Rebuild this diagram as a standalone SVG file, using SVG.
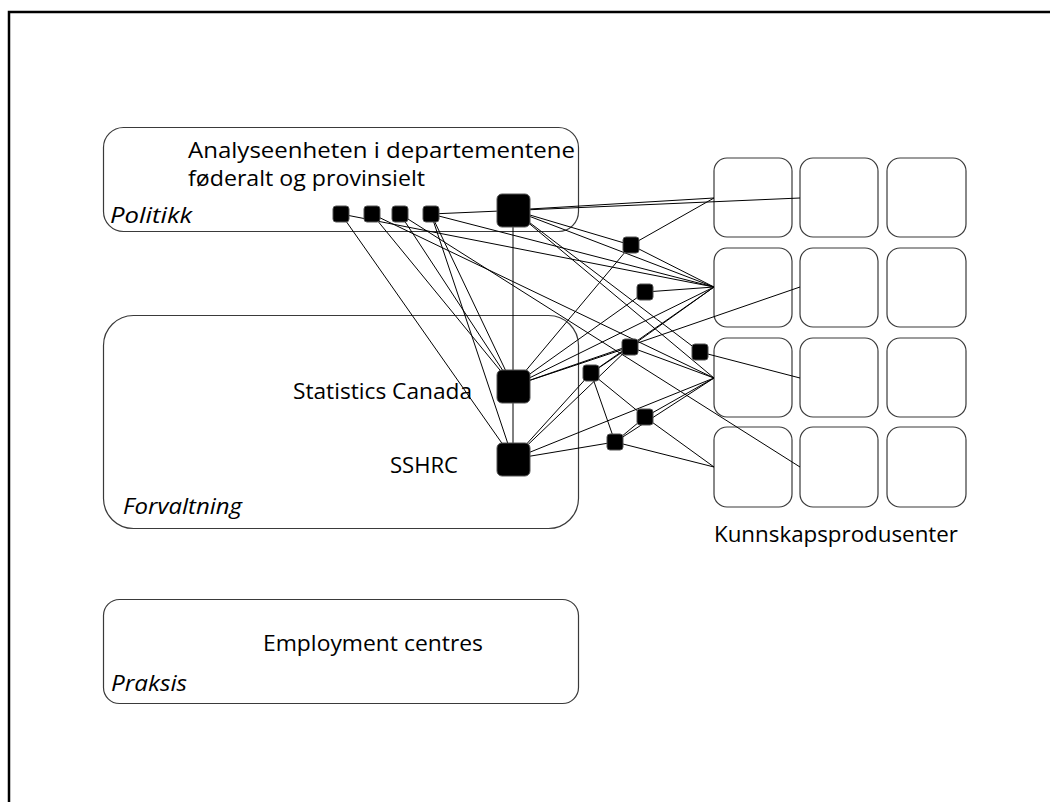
<svg xmlns="http://www.w3.org/2000/svg" width="1050" height="802" viewBox="0 0 1050 802">
<style>
.box{fill:none;stroke:#3a3a3a;stroke-width:1.2}
.cell{fill:none;stroke:#3a3a3a;stroke-width:1.2}
.sq{fill:#000;stroke:#555;stroke-width:1}
.ln{stroke:#000;stroke-width:1;fill:none}
.t{font-family:"Open Sans","Liberation Sans",sans-serif;font-size:22px;fill:#000}
.i{font-style:italic}
</style>
<rect x="0" y="0" width="1050" height="802" fill="#fff"/>
<rect x="9" y="12" width="1100" height="900" fill="none" stroke="#000" stroke-width="2.5"/>

<g id="politikk">
<rect class="box" x="103.5" y="127.5" width="475" height="104" rx="20"/>
<text class="t" x="188" y="158" textLength="387" lengthAdjust="spacingAndGlyphs">Analyseenheten i departementene</text>
<text class="t" x="188" y="186" textLength="237" lengthAdjust="spacingAndGlyphs">føderalt og provinsielt</text>
<text class="t i" x="110" y="223" textLength="82" lengthAdjust="spacingAndGlyphs">Politikk</text>
</g>
<g id="forvaltning">
<rect class="box" x="103.5" y="315.5" width="475" height="213" rx="30"/>
<text class="t" x="293" y="399" textLength="179" lengthAdjust="spacingAndGlyphs">Statistics Canada</text>
<text class="t" x="390" y="473" textLength="68" lengthAdjust="spacingAndGlyphs">SSHRC</text>
<text class="t i" x="123" y="514" textLength="119" lengthAdjust="spacingAndGlyphs">Forvaltning</text>
</g>
<g id="praksis">
<rect class="box" x="103.5" y="599.5" width="475" height="104" rx="16"/>
<text class="t" x="263" y="651" textLength="220" lengthAdjust="spacingAndGlyphs">Employment centres</text>
<text class="t i" x="111" y="691" textLength="76" lengthAdjust="spacingAndGlyphs">Praksis</text>
</g>
<g id="kunnskapsprodusenter">
<rect class="cell" x="714" y="158" width="78" height="79" rx="13"/>
<rect class="cell" x="800" y="158" width="78" height="79" rx="13"/>
<rect class="cell" x="887" y="158" width="79" height="79" rx="13"/>
<rect class="cell" x="714" y="248" width="78" height="79" rx="13"/>
<rect class="cell" x="800" y="248" width="78" height="79" rx="13"/>
<rect class="cell" x="887" y="248" width="79" height="79" rx="13"/>
<rect class="cell" x="714" y="338" width="78" height="79" rx="13"/>
<rect class="cell" x="800" y="338" width="78" height="79" rx="13"/>
<rect class="cell" x="887" y="338" width="79" height="79" rx="13"/>
<rect class="cell" x="714" y="427" width="78" height="80" rx="13"/>
<rect class="cell" x="800" y="427" width="78" height="80" rx="13"/>
<rect class="cell" x="887" y="427" width="79" height="80" rx="13"/>
<text class="t" x="714" y="542" textLength="244" lengthAdjust="spacingAndGlyphs">Kunnskapsprodusenter</text>
</g>

<g id="connectors" class="ln">
<line x1="341" y1="214" x2="513" y2="459"/>
<line x1="341" y1="214" x2="714" y2="287"/>
<line x1="372" y1="214" x2="513" y2="386"/>
<line x1="372" y1="214" x2="714" y2="378"/>
<line x1="400" y1="214" x2="513" y2="386"/>
<line x1="400" y1="214" x2="800" y2="467"/>
<line x1="431" y1="214" x2="800" y2="198"/>
<line x1="431" y1="214" x2="513" y2="386"/>
<line x1="431" y1="214" x2="513" y2="459"/>
<line x1="431" y1="214" x2="714" y2="287"/>
<line x1="513" y1="210" x2="714" y2="198"/>
<line x1="513" y1="210" x2="513" y2="459"/>
<line x1="513" y1="210" x2="631" y2="245"/>
<line x1="513" y1="210" x2="714" y2="287"/>
<line x1="513" y1="210" x2="700" y2="352"/>
<line x1="513" y1="210" x2="714" y2="378"/>
<line x1="631" y1="245" x2="714" y2="198"/>
<line x1="631" y1="245" x2="714" y2="287"/>
<line x1="631" y1="245" x2="513" y2="386"/>
<line x1="645" y1="292" x2="714" y2="287"/>
<line x1="645" y1="292" x2="513" y2="386"/>
<line x1="513" y1="386" x2="630" y2="347"/>
<line x1="513" y1="386" x2="714" y2="287"/>
<line x1="513" y1="386" x2="800" y2="287"/>
<line x1="630" y1="347" x2="714" y2="287"/>
<line x1="630" y1="347" x2="714" y2="378"/>
<line x1="630" y1="347" x2="591" y2="373"/>
<line x1="591" y1="373" x2="714" y2="287"/>
<line x1="591" y1="373" x2="645" y2="417"/>
<line x1="591" y1="373" x2="615" y2="442"/>
<line x1="591" y1="373" x2="513" y2="459"/>
<line x1="513" y1="459" x2="630" y2="347"/>
<line x1="513" y1="459" x2="615" y2="442"/>
<line x1="513" y1="459" x2="714" y2="378"/>
<line x1="645" y1="417" x2="714" y2="378"/>
<line x1="645" y1="417" x2="714" y2="467"/>
<line x1="645" y1="417" x2="615" y2="442"/>
<line x1="615" y1="442" x2="714" y2="467"/>
<line x1="615" y1="442" x2="714" y2="378"/>
<line x1="700" y1="352" x2="800" y2="378"/>
</g>

<g id="s1"><rect class="sq" x="333" y="206" width="16" height="16" rx="3"/></g>
<g id="s2"><rect class="sq" x="364" y="206" width="16" height="16" rx="3"/></g>
<g id="s3"><rect class="sq" x="392" y="206" width="16" height="16" rx="3"/></g>
<g id="s4"><rect class="sq" x="423" y="206" width="16" height="16" rx="3"/></g>
<g id="analyse-hub"><rect class="sq" x="497" y="194" width="33" height="33" rx="5"/></g>
<g id="statistics-canada"><rect class="sq" x="497" y="370" width="33" height="33" rx="5"/></g>
<g id="sshrc"><rect class="sq" x="497" y="443" width="33" height="33" rx="5"/></g>
<g id="n-a"><rect class="sq" x="623" y="237" width="16" height="16" rx="3"/></g>
<g id="n-b"><rect class="sq" x="637" y="284" width="16" height="16" rx="3"/></g>
<g id="n-c"><rect class="sq" x="622" y="339" width="16" height="16" rx="3"/></g>
<g id="n-d"><rect class="sq" x="583" y="365" width="16" height="16" rx="3"/></g>
<g id="n-e"><rect class="sq" x="637" y="409" width="16" height="16" rx="3"/></g>
<g id="n-f"><rect class="sq" x="607" y="434" width="16" height="16" rx="3"/></g>
<g id="n-g"><rect class="sq" x="692" y="344" width="16" height="16" rx="3"/></g>
</svg>
